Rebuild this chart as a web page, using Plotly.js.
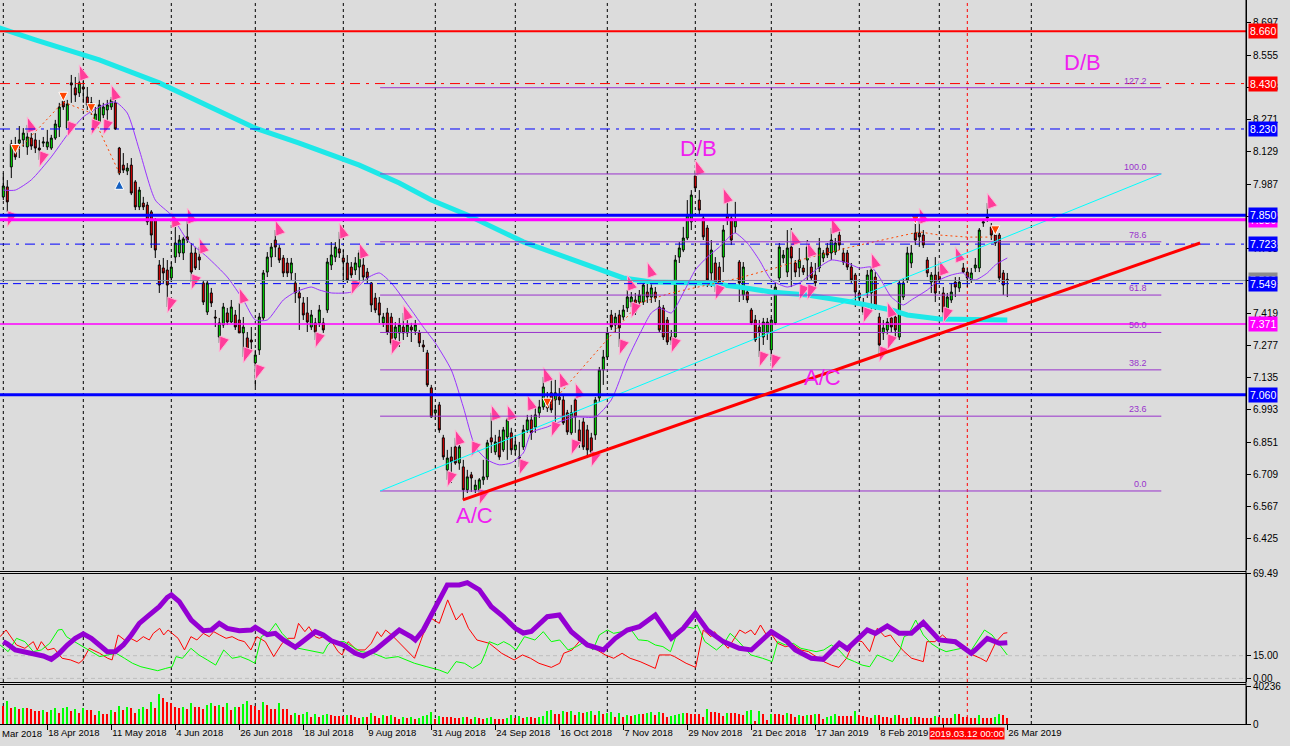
<!DOCTYPE html>
<html><head><meta charset="utf-8">
<script src="https://cdn.plot.ly/plotly-3.0.1.min.js"></script>
<style>html,body{margin:0;padding:0;background:#dcdcdc;overflow:hidden}#chart{width:1290px;height:746px}</style>
</head><body><div id="chart"></div>
<script>
// ---------- daily bars (index 0 = first visible bar, Apr 2018) ----------
const open = [7.931,7.975,8.063,8.151,8.168,8.182,8.151,8.190,8.182,8.146,8.168,8.151,8.146,8.190,8.239,8.353,8.234,8.433,8.411,8.389,8.415,8.371,8.345,8.261,8.261,8.292,8.314,8.327,8.345,8.146,8.071,8.045,8.071,7.997,7.887,7.904,7.895,7.865,7.829,7.631,7.618,7.609,7.574,7.666,7.684,7.684,7.755,7.684,7.684,7.666,7.552,7.424,7.508,7.402,7.314,7.367,7.420,7.380,7.411,7.389,7.332,7.310,7.301,7.200,7.257,7.398,7.600,7.666,7.741,7.706,7.662,7.640,7.596,7.552,7.508,7.464,7.420,7.358,7.376,7.376,7.376,7.433,7.631,7.666,7.702,7.662,7.640,7.622,7.609,7.622,7.631,7.600,7.552,7.486,7.464,7.376,7.420,7.402,7.310,7.332,7.358,7.332,7.358,7.341,7.332,7.279,7.244,7.090,6.980,7.015,6.870,6.729,6.786,6.830,6.759,6.742,6.641,6.707,6.641,6.641,6.685,6.698,6.870,6.808,6.874,6.817,6.874,6.892,6.817,6.786,6.830,6.905,6.949,6.918,6.980,7.006,7.037,7.068,7.037,7.050,7.037,6.980,6.892,7.037,6.905,6.940,6.905,6.870,6.883,7.046,7.169,7.226,7.411,7.367,7.411,7.402,7.442,7.468,7.477,7.468,7.468,7.512,7.490,7.512,7.446,7.442,7.389,7.301,7.314,7.666,7.697,7.750,7.821,8.023,7.917,7.838,7.794,7.596,7.640,7.622,7.666,7.851,7.838,7.799,7.644,7.499,7.512,7.433,7.389,7.358,7.314,7.336,7.257,7.376,7.574,7.662,7.600,7.710,7.640,7.618,7.618,7.653,7.622,7.587,7.618,7.662,7.706,7.684,7.688,7.763,7.684,7.684,7.622,7.587,7.508,7.464,7.508,7.508,7.578,7.402,7.332,7.345,7.398,7.402,7.314,7.490,7.565,7.640,7.772,7.772,7.763,7.653,7.556,7.587,7.600,7.508,7.433,7.477,7.556,7.530,7.618,7.600,7.565,7.618,7.618,7.816,7.843,7.799,7.763,7.763,7.596,7.568];
const high = [8.036,8.005,8.182,8.195,8.243,8.234,8.248,8.212,8.212,8.182,8.195,8.226,8.204,8.270,8.345,8.367,8.358,8.468,8.459,8.477,8.459,8.415,8.371,8.327,8.358,8.345,8.358,8.371,8.358,8.151,8.124,8.080,8.102,8.005,7.975,7.931,7.909,7.873,7.838,7.653,7.662,7.653,7.644,7.829,7.763,7.755,7.829,7.728,7.711,7.711,7.565,7.565,7.530,7.433,7.398,7.464,7.442,7.477,7.433,7.464,7.402,7.336,7.358,7.257,7.420,7.609,7.688,7.728,7.785,7.719,7.675,7.662,7.662,7.596,7.534,7.490,7.490,7.433,7.398,7.455,7.398,7.662,7.732,7.732,7.777,7.697,7.675,7.644,7.666,7.697,7.662,7.618,7.556,7.508,7.490,7.420,7.442,7.420,7.380,7.398,7.420,7.389,7.376,7.389,7.345,7.301,7.257,7.103,7.015,7.028,6.883,6.817,6.830,6.870,6.839,6.773,6.729,6.720,6.685,6.693,6.773,6.861,6.980,6.883,6.905,6.918,6.958,6.914,6.883,6.852,6.927,6.971,6.971,7.006,7.037,7.138,7.072,7.138,7.125,7.090,7.059,6.993,7.015,7.046,6.949,6.958,6.927,6.892,7.050,7.182,7.257,7.345,7.433,7.420,7.433,7.455,7.521,7.512,7.508,7.521,7.556,7.552,7.552,7.534,7.477,7.455,7.402,7.345,7.675,7.732,7.799,7.917,7.961,8.049,7.961,7.851,7.807,7.741,7.666,7.644,7.807,7.931,7.851,7.909,7.653,7.644,7.534,7.442,7.411,7.389,7.398,7.398,7.402,7.552,7.728,7.697,7.785,7.794,7.653,7.706,7.631,7.741,7.644,7.640,7.750,7.697,7.728,7.794,7.750,7.785,7.706,7.697,7.640,7.596,7.521,7.486,7.609,7.622,7.600,7.420,7.389,7.398,7.420,7.420,7.565,7.574,7.711,7.719,7.821,7.829,7.785,7.666,7.600,7.666,7.631,7.534,7.508,7.552,7.578,7.578,7.640,7.618,7.618,7.662,7.794,7.829,7.904,7.816,7.777,7.772,7.609,7.596];
const low = [7.917,7.865,8.014,8.094,8.102,8.151,8.116,8.138,8.124,8.094,8.151,8.138,8.138,8.182,8.195,8.314,8.226,8.345,8.349,8.371,8.345,8.314,8.292,8.239,8.248,8.278,8.256,8.314,8.226,8.027,8.036,8.027,7.939,7.873,7.873,7.873,7.807,7.706,7.662,7.508,7.552,7.446,7.556,7.640,7.666,7.653,7.728,7.556,7.609,7.609,7.455,7.411,7.446,7.358,7.288,7.354,7.367,7.376,7.345,7.332,7.226,7.226,7.244,7.094,7.235,7.389,7.578,7.622,7.666,7.640,7.578,7.578,7.565,7.464,7.345,7.389,7.336,7.345,7.301,7.358,7.332,7.420,7.609,7.644,7.662,7.556,7.552,7.574,7.587,7.552,7.565,7.552,7.424,7.420,7.376,7.358,7.323,7.279,7.292,7.270,7.301,7.314,7.292,7.323,7.270,7.248,7.094,6.958,6.949,6.892,6.773,6.685,6.671,6.751,6.729,6.597,6.627,6.632,6.627,6.618,6.663,6.685,6.803,6.795,6.773,6.808,6.773,6.795,6.795,6.742,6.817,6.892,6.861,6.892,6.958,6.993,6.984,6.980,6.918,7.015,6.927,6.883,6.883,6.892,6.826,6.817,6.781,6.795,6.861,7.028,7.103,7.213,7.345,7.332,7.270,7.389,7.424,7.446,7.411,7.446,7.455,7.464,7.464,7.468,7.332,7.301,7.279,7.279,7.301,7.640,7.688,7.741,7.785,7.953,7.851,7.741,7.534,7.534,7.512,7.521,7.600,7.807,7.719,7.772,7.468,7.477,7.464,7.367,7.292,7.226,7.279,7.301,7.204,7.367,7.556,7.640,7.578,7.534,7.578,7.578,7.587,7.565,7.565,7.534,7.600,7.644,7.662,7.653,7.675,7.697,7.631,7.609,7.552,7.446,7.468,7.411,7.486,7.420,7.433,7.235,7.301,7.323,7.332,7.301,7.301,7.477,7.552,7.618,7.719,7.711,7.706,7.578,7.508,7.468,7.552,7.402,7.420,7.464,7.490,7.512,7.596,7.534,7.552,7.600,7.600,7.799,7.821,7.741,7.715,7.556,7.499,7.490];
const close = [7.979,7.909,8.164,8.107,8.182,8.212,8.195,8.155,8.146,8.138,8.173,8.173,8.190,8.252,8.327,8.327,8.340,8.424,8.380,8.433,8.406,8.336,8.305,8.296,8.336,8.327,8.336,8.358,8.230,8.036,8.049,8.058,7.948,7.887,7.961,7.887,7.821,7.763,7.697,7.543,7.596,7.543,7.622,7.728,7.741,7.746,7.741,7.600,7.618,7.653,7.468,7.552,7.464,7.398,7.376,7.446,7.380,7.446,7.358,7.332,7.358,7.257,7.292,7.235,7.402,7.596,7.666,7.710,7.710,7.653,7.596,7.596,7.640,7.508,7.486,7.411,7.380,7.411,7.336,7.433,7.345,7.644,7.675,7.710,7.684,7.644,7.565,7.587,7.640,7.684,7.578,7.574,7.455,7.433,7.411,7.402,7.336,7.288,7.358,7.367,7.332,7.367,7.345,7.367,7.288,7.270,7.103,6.962,6.993,6.905,6.786,6.781,6.764,6.759,6.830,6.641,6.698,6.693,6.662,6.685,6.698,6.848,6.852,6.852,6.786,6.905,6.949,6.817,6.839,6.781,6.905,6.949,6.892,6.971,7.006,7.094,7.002,6.993,7.068,7.037,6.936,6.896,6.980,6.962,6.852,6.830,6.817,6.808,7.037,7.169,7.226,7.332,7.358,7.402,7.354,7.433,7.490,7.490,7.424,7.499,7.543,7.490,7.530,7.486,7.345,7.314,7.292,7.314,7.653,7.706,7.750,7.851,7.939,7.970,7.873,7.755,7.565,7.697,7.552,7.552,7.785,7.829,7.741,7.829,7.552,7.622,7.477,7.376,7.301,7.336,7.380,7.380,7.389,7.534,7.710,7.675,7.706,7.662,7.600,7.653,7.600,7.710,7.574,7.552,7.706,7.684,7.675,7.741,7.728,7.719,7.644,7.622,7.565,7.512,7.486,7.424,7.587,7.609,7.446,7.279,7.354,7.380,7.358,7.345,7.552,7.552,7.684,7.684,7.741,7.755,7.719,7.596,7.587,7.508,7.565,7.424,7.490,7.512,7.534,7.556,7.600,7.574,7.596,7.631,7.785,7.821,7.838,7.763,7.728,7.574,7.543,7.563];
const volume = [19420,24710,17300,18360,15890,17300,17300,15890,14120,14120,15180,13060,15180,17300,12000,17300,18360,14120,16240,12000,17300,15180,15180,9880,14120,10940,10940,15180,13060,19420,15180,18360,17300,12000,16240,18360,16240,23650,17300,32120,27890,23650,22590,18360,17300,18360,16240,22590,18360,18360,16240,20470,22590,19420,20470,18360,22590,15180,18360,18360,21530,24710,20470,19420,15180,23650,20470,16240,16240,22590,16240,16240,9880,12000,9880,10940,13060,7770,10940,7770,9880,10940,9880,8830,8830,8830,9880,9880,7770,6710,7770,7770,12000,8830,6710,9880,8830,9880,7770,5650,7770,6710,7770,5650,6710,8830,9880,13060,5650,8830,7770,7770,7770,6710,6710,7770,7770,5650,7770,6710,5650,6710,7770,5650,5650,5650,6710,9880,6710,8830,6710,7770,7770,6710,7770,8830,14120,15180,10940,10940,14120,13060,14120,9880,13060,12000,13060,14120,9880,14120,10940,12000,13060,7770,12000,7770,9880,8830,9880,10940,10940,12000,13060,9880,13060,12000,7770,8830,9880,10940,12000,12000,10940,10940,10940,7770,16240,13060,13060,12000,8830,12000,12000,12000,10940,9880,14120,15180,3530,14120,10940,4590,10940,10940,10940,9880,12000,10940,7770,9880,8830,9880,9880,10940,10940,5650,7770,8830,10940,8830,8830,8830,8830,14120,9880,8830,7770,6710,9880,9880,7770,7770,6710,9880,9880,6710,6710,7770,7770,7770,6710,6710,6710,8830,7770,6710,6710,6710,10940,10940,7770,7770,6710,6710,9880,6710,6710,6710,7770,10940,9880,6710];

// ---------- moving averages (bar index, price) ----------
const slowMaIdx = [-1,8,24,39,63,74,89,99,107,116,130,141,149,155,162,176,184,192,201,212,222,226,234,251];
const slowMaPrice = [8.675,8.622,8.534,8.433,8.234,8.168,8.071,7.992,7.917,7.851,7.733,7.662,7.609,7.574,7.556,7.552,7.534,7.512,7.499,7.468,7.433,7.411,7.393,7.389];
const fastMaIdx = [0,3,7,12,16,20,24,28,31,34,38,42,46,51,56,60,63,66,70,73,77,79,82,87,91,94,97,102,105,108,112,115,118,121,124,127,130,132,136,139,143,148,152,156,160,162,164,167,170,173,176,179,182,183,186,189,192,196,199,201,204,207,211,214,217,219,222,225,227,231,234,237,240,241,243,246,248,251];
const fastMaPrice = [7.961,7.961,8.006,8.107,8.204,8.283,8.327,8.349,8.300,8.138,7.917,7.851,7.741,7.666,7.578,7.477,7.389,7.389,7.477,7.512,7.534,7.521,7.508,7.512,7.574,7.596,7.552,7.433,7.358,7.288,7.169,7.006,6.830,6.773,6.751,6.760,6.803,6.892,6.918,6.940,6.962,6.962,7.037,7.213,7.358,7.420,7.442,7.420,7.508,7.609,7.666,7.710,7.763,7.772,7.728,7.653,7.565,7.534,7.552,7.578,7.622,7.653,7.640,7.618,7.622,7.578,7.490,7.455,7.477,7.521,7.565,7.587,7.596,7.578,7.565,7.596,7.631,7.662];
// dotted swing line
const swingIdx = [3,15,22,29,null,136,159,167,184,193,201,209,213,229,234,241,248];
const swingPrice = [8.124,8.349,8.300,8.036,null,7.002,7.464,7.508,7.574,7.618,7.662,7.697,7.715,7.777,7.763,7.754,7.754];
const sellArrowIdx = [3,15,22,136,228,248];
const sellArrowPrice = [8.122,8.352,8.302,7.005,7.812,7.764];
const buyArrowIdx = [29];
const buyArrowPrice = [8.004];
// fractals
const upFracIdx = [6,19,27,42,46,49,59,68,84,89,100,113,122,126,131,135,139,143,156,161,173,180,197,201,207,217,221,229,234,238,246];
const upFracPrice = [8.283,8.512,8.424,7.865,7.882,7.750,7.530,7.829,7.816,7.728,7.455,6.905,7.015,7.015,7.059,7.182,7.160,7.112,7.587,7.644,8.094,7.970,7.785,7.733,7.838,7.684,7.468,7.882,7.653,7.711,7.948];
const dnFracIdx = [1,9,16,22,25,41,47,54,60,63,78,87,97,111,117,119,129,137,142,147,154,157,167,178,189,192,199,201,215,219,221,235];
const dnFracPrice = [7.799,8.063,8.195,8.204,8.204,7.420,7.521,7.248,7.200,7.125,7.266,7.499,7.235,6.654,6.786,6.575,6.707,6.874,6.795,6.742,7.235,7.398,7.244,7.477,7.182,7.169,7.477,7.477,7.376,7.204,7.257,7.376];

// ---------- horizontal levels and drawings ----------
const levelPrices = [8.660, 8.430, 8.230, 7.850, 7.830, 7.723, 7.563, 7.549, 7.371, 7.060];
const fibLevels = [0.0, 23.6, 38.2, 50.0, 61.8, 78.6, 100.0, 127.2];
const fibLowPrice = 6.636, fibHighPrice = 8.032;
const fibStartIdx = 94.2, fibEndIdx = 289.5;
const redTrendIdx = [114.9, 299.2], redTrendPrice = [6.597, 7.728];
const waveLabels = ['D/B', 'D/B', 'A/C', 'A/C'];
const waveIdx = [173.7, 269.7, 117.7, 204.7];
const wavePrice = [8.146, 8.525, 6.530, 7.134];

// ---------- directional movement indicator ----------
const adxIdx = [0,1,3,5,8,10,12,14,16,18,20,22,24,26,28,30,32,34,36,39,41,42,44,47,50,52,54,56,59,62,63,66,68,70,73,76,78,80,82,85,88,90,93,96,99,102,103,105,108,111,114,116,119,122,125,128,130,132,136,139,142,146,150,153,156,159,163,167,170,173,176,180,184,187,192,196,198,202,205,209,211,216,218,221,224,227,230,234,238,242,243,246,249,251];
const adxVal = [24.3,22.8,18.8,17.7,16.6,14.8,12.6,16.6,22.1,26.5,29.4,26.5,22.1,17.7,17.7,22.1,28.7,36.4,40.8,47.4,53.6,55.2,50.7,38.6,31.5,32.0,36.4,33.1,31.5,32.0,33.8,29.0,29.8,25.4,20.6,26.5,30.9,28.7,24.9,22.1,16.6,14.8,18.8,25.4,32.0,27.5,25.4,32.0,47.4,61.8,61.8,63.3,58.5,47.4,40.8,33.1,30.0,31.0,40.8,41.9,30.9,22.1,18.8,26.5,32.0,34.2,41.9,26.5,33.1,43.0,32.0,24.3,19.9,18.8,30.9,24.3,18.8,13.3,12.6,23.2,19.5,32.0,29.8,34.7,29.8,29.8,36.9,25.4,24.3,16.6,18.8,26.5,23.2,23.6];
const diMinusIdx = [-0.8,0.7,3.3,5.4,7.5,8.5,9.5,11.1,12.7,14.7,16.8,18.9,19.9,21.5,24.1,26.1,27.2,28.7,30.3,31.8,33.4,35.0,36.5,37.5,39.1,40.1,41.2,42.2,43.7,45.3,46.9,48.4,50.0,51.5,52.6,54.1,55.7,57.2,58.8,60.3,61.9,63.4,65.5,67.6,69.7,71.2,72.8,73.8,75.4,76.4,78.0,79.0,80.0,82.1,83.7,84.7,86.2,88.3,90.4,92.0,93.5,94.5,95.6,97.1,98.7,100.8,102.8,104.9,107.0,109.0,111.1,113.2,114.7,116.3,118.4,121.5,124.6,127.7,129.8,131.8,133.9,137.0,139.1,140.1,142.2,144.3,146.4,148.4,150.5,152.6,154.7,156.7,159.2,163.0,164.0,166.8,167.8,170.7,173.1,175.0,176.9,177.8,179.3,181.2,183.1,184.1,185.5,186.9,187.9,189.3,190.8,192.2,193.6,195.5,197.5,199.4,201.3,203.2,205.1,207.0,208.9,210.8,212.8,214.7,216.6,218.5,220.4,221.8,223.3,225.2,227.1,230.0,230.9,232.9,234.8,236.7,238.6,240.5,242.4,244.3,245.8,248.2,250.1,251.0];
const diMinusVal = [27.6,32.0,22.1,19.9,24.3,18.8,24.3,18.8,19.9,13.3,12.2,10.0,12.2,19.9,16.6,13.3,12.2,28.7,25.4,26.5,24.3,27.6,25.4,29.8,33.1,28.7,32.0,29.8,26.5,18.8,27.6,25.4,29.8,27.6,30.9,28.7,26.5,27.6,25.4,24.3,18.8,27.6,24.3,14.4,23.2,26.5,26.5,36.4,30.9,34.2,27.6,26.5,27.6,24.3,17.7,15.5,24.3,18.8,18.8,23.2,30.9,27.6,32.0,28.7,24.3,18.8,13.3,28.7,39.7,36.4,51.9,38.6,43.0,33.1,25.4,23.2,16.6,12.2,15.5,13.3,10.0,7.3,10.0,16.6,18.8,25.4,22.1,18.8,15.5,13.3,16.6,13.3,11.1,6.6,15.5,15.5,14.4,10.0,7.3,32.0,27.6,30.9,25.4,19.9,27.6,32.0,29.8,32.0,28.7,35.3,28.7,28.7,23.2,21.0,22.1,18.8,17.7,14.4,11.1,8.8,7.3,13.3,25.4,24.3,17.7,33.1,27.6,28.7,23.2,17.7,13.3,11.1,24.3,24.3,28.7,24.3,22.1,18.8,15.5,13.3,11.1,24.3,29.8,30.2];
const diPlusIdx = [-0.8,1.2,3.3,5.4,7.5,9.5,11.6,13.7,14.7,15.8,17.8,19.9,22.0,24.1,26.1,28.2,30.3,32.3,34.4,36.5,38.6,40.6,42.2,43.2,44.8,46.9,48.9,51.0,53.1,55.1,57.2,59.3,61.4,62.9,64.5,66.6,68.1,69.7,71.7,73.8,75.9,78.0,80.0,81.1,82.1,85.2,87.3,89.4,92.5,95.6,98.7,100.8,102.8,105.9,109.0,111.1,112.2,113.2,115.3,117.3,119.4,120.5,121.5,123.6,125.1,126.7,128.2,130.3,132.9,135.0,137.0,139.1,141.2,143.3,145.3,147.4,149.0,151.0,152.6,154.7,156.7,158.8,159.2,161.1,163.0,164.9,166.8,168.7,170.7,172.6,173.5,175.4,178.3,180.2,181.7,183.1,185.0,186.9,189.8,192.2,193.6,195.5,197.5,199.4,201.3,203.2,205.1,207.0,208.9,210.8,212.8,214.7,216.6,218.5,220.4,222.3,224.2,225.2,226.2,228.1,230.0,231.9,233.8,235.7,237.6,239.6,241.5,243.4,245.3,247.2,249.1,251.0];
const diPlusVal = [22.1,17.7,26.5,24.3,17.7,18.8,23.2,32.0,32.4,27.6,24.3,21.0,17.7,14.4,15.5,16.6,13.3,10.0,7.7,6.6,5.1,6.6,7.7,14.4,13.3,19.9,15.5,12.2,8.8,18.8,13.3,14.4,12.2,10.0,27.6,30.9,36.4,29.8,24.3,19.9,18.8,17.7,16.6,22.1,24.3,24.3,21.0,17.7,16.6,13.3,14.4,12.2,10.0,7.7,5.5,3.3,7.7,11.1,10.0,6.6,10.0,16.6,24.3,22.1,24.3,22.1,18.8,27.6,25.4,30.9,24.3,25.4,18.8,21.0,24.3,18.8,28.7,32.0,29.8,30.9,33.1,25.4,25.4,24.9,22.1,21.0,17.7,32.0,34.2,33.1,35.3,24.3,18.8,23.2,29.8,26.5,21.0,15.5,13.3,11.1,24.3,22.1,23.2,19.9,18.8,17.7,18.8,22.1,18.8,13.3,11.1,8.8,7.7,15.5,13.3,11.1,18.8,27.6,28.7,38.6,28.7,23.2,19.9,17.7,18.8,19.9,16.6,24.3,32.0,28.7,22.1,15.5];

// ---------- axes ----------
const priceTicks = [6.425,6.567,6.709,6.851,6.993,7.135,7.277,7.419,7.561,7.703,7.845,7.987,8.129,8.271,8.413,8.555,8.697];
const dmiTicks = [0, 15, 69.49];
const volTicks = [0, 40236];
const monthStartIdx = [0,20,42,63,85,108,128,151,173,192,214,234,257];
const dateTickIdx = [11,27,43,59,75,91,107,123,139,155,171,187,203,219,235,251];
const dateTickText = ['18 Apr 2018','11 May 2018','4 Jun 2018','26 Jun 2018','18 Jul 2018','9 Aug 2018','31 Aug 2018','24 Sep 2018','16 Oct 2018','7 Nov 2018','29 Nov 2018','21 Dec 2018','17 Jan 2019','8 Feb 2019','4 Mar 2019','26 Mar 2019'];
const cursorIdx = 241;
const cursorText = '2019.03.12 00:00';

// ---------- build ----------
const N = close.length;
const barIdx = Array.from({length: N}, (_, i) => i);
const volColor = volume.map((v, i) => (i > 0 && v > volume[i - 1]) ? '#00ff00' : '#ff0000');

const PH = 724; // plot area height in px
const fy = px => 1 - px / PH;
const FONT = 'Liberation Sans, Arial, sans-serif';
const xRange = [-0.825, 310.675];

const traces = [
  {type: 'candlestick', x: barIdx, open, high, low, close, xaxis: 'x', yaxis: 'y',
   increasing: {line: {color: '#000000', width: 1}, fillcolor: '#00ff00'},
   decreasing: {line: {color: '#000000', width: 1}, fillcolor: '#ff0000'},
   whiskerwidth: 0, hoverinfo: 'skip', showlegend: false},
  {type: 'scatter', mode: 'lines', x: slowMaIdx, y: slowMaPrice, line: {color: '#1ee8e8', width: 5}, hoverinfo: 'skip', showlegend: false},
  {type: 'scatter', mode: 'lines', x: fastMaIdx, y: fastMaPrice, line: {color: '#9933ff', width: 1, shape: 'spline', smoothing: 0.6}, hoverinfo: 'skip', showlegend: false},
  {type: 'scatter', mode: 'lines', x: swingIdx, y: swingPrice, connectgaps: false, line: {color: '#ff4500', width: 1, dash: '2px,3px'}, hoverinfo: 'skip', showlegend: false},
  {type: 'scatter', mode: 'markers', x: upFracIdx, y: upFracPrice, marker: {symbol: 'arrow', size: 16, angle: -20, color: '#ff3d9a', line: {color: '#ffb3d6', width: 1}}, hoverinfo: 'skip', showlegend: false},
  {type: 'scatter', mode: 'markers', x: dnFracIdx, y: dnFracPrice, marker: {symbol: 'arrow', size: 16, angle: 200, color: '#ff3d9a', line: {color: '#ffb3d6', width: 1}}, hoverinfo: 'skip', showlegend: false},
  {type: 'scatter', mode: 'markers', x: sellArrowIdx, y: sellArrowPrice, marker: {symbol: 'arrow-down', size: 9, color: '#ff4500', line: {color: '#ffffff', width: 1}}, hoverinfo: 'skip', showlegend: false},
  {type: 'scatter', mode: 'markers', x: buyArrowIdx, y: buyArrowPrice, marker: {symbol: 'arrow-up', size: 9, color: '#1560c0', line: {color: '#ffffff', width: 1}}, hoverinfo: 'skip', showlegend: false},
  // DMI pane
  {type: 'scatter', mode: 'lines', x: diMinusIdx, y: diMinusVal, xaxis: 'x2', yaxis: 'y2', line: {color: '#ff0000', width: 1}, hoverinfo: 'skip', showlegend: false},
  {type: 'scatter', mode: 'lines', x: diPlusIdx, y: diPlusVal, xaxis: 'x2', yaxis: 'y2', line: {color: '#00ff00', width: 1}, hoverinfo: 'skip', showlegend: false},
  {type: 'scatter', mode: 'lines', x: adxIdx, y: adxVal, xaxis: 'x2', yaxis: 'y2', line: {color: '#9400d3', width: 5}, hoverinfo: 'skip', showlegend: false},
  // volume pane
  {type: 'bar', x: barIdx, y: volume, xaxis: 'x3', yaxis: 'y3', width: 0.42, marker: {color: volColor, line: {width: 0}}, hoverinfo: 'skip', showlegend: false}
];

const shapes = [];
const paneRefs = [['x', 'y domain'], ['x2', 'y2 domain'], ['x3', 'y3 domain']];
monthStartIdx.forEach(i => paneRefs.forEach(([xr, yr]) => shapes.push({type: 'line', xref: xr, yref: yr, x0: i, x1: i, y0: 0, y1: 1, layer: 'below', line: {color: '#000000', width: 1, dash: '3px,3px'}})));
paneRefs.forEach(([xr, yr]) => shapes.push({type: 'line', xref: xr, yref: yr, x0: cursorIdx, x1: cursorIdx, y0: 0, y1: 1, layer: 'below', line: {color: '#ff0000', width: 1, dash: '3px,3px'}}));

// fib levels
const fibColor = '#9932cc';
fibLevels.forEach(l => {
  const p = fibLowPrice + (fibHighPrice - fibLowPrice) * l / 100;
  shapes.push({type: 'line', xref: 'x', yref: 'y', x0: fibStartIdx, x1: fibEndIdx, y0: p, y1: p, layer: 'above', line: {color: fibColor, width: 1}});
});
// fib diagonal
shapes.push({type: 'line', xref: 'x', yref: 'y', x0: fibStartIdx, x1: fibEndIdx, y0: fibLowPrice, y1: fibHighPrice, layer: 'above', line: {color: '#00ffff', width: 1}});

// horizontal price levels
const levelLook = [
  {c: '#ff0000', w: 2, d: 'solid', box: '#ff0000'},
  {c: '#ff0000', w: 1, d: '10px,6px,3px,6px', box: '#ff0000'},
  {c: '#0000ff', w: 1, d: '10px,6px,3px,6px', box: '#0000ff'},
  {c: '#0000ff', w: 3, d: 'solid', box: '#0000ff'},
  {c: '#ff00ff', w: 3, d: 'solid', box: '#ff00ff'},
  {c: '#0000ff', w: 1, d: '10px,6px,3px,6px', box: '#0000ff'},
  {c: '#7a8ca0', w: 1, d: 'solid', box: '#8c8c8c'},
  {c: '#0000ff', w: 1, d: '8px,5px', box: '#0000ff'},
  {c: '#ff00ff', w: 1.5, d: 'solid', box: '#ff00ff'},
  {c: '#0000ff', w: 3, d: 'solid', box: '#0000ff'}
];
levelPrices.forEach((p, i) => shapes.push({type: 'line', xref: 'paper', yref: 'y', x0: 0, x1: 1, y0: p, y1: p, layer: 'above', line: {color: levelLook[i].c, width: levelLook[i].w, dash: levelLook[i].d}}));

// red trend line
shapes.push({type: 'line', xref: 'x', yref: 'y', x0: redTrendIdx[0], x1: redTrendIdx[1], y0: redTrendPrice[0], y1: redTrendPrice[1], layer: 'above', line: {color: '#ff0000', width: 3}});

// pane borders
[571.5, 573.5, 682.5, 684.5].forEach(px => shapes.push({type: 'line', xref: 'paper', yref: 'paper', x0: 0, x1: 1, y0: fy(px), y1: fy(px), line: {color: '#000000', width: 1}}));
shapes.push({type: 'line', xref: 'paper', yref: 'paper', x0: 1, x1: 1, y0: 0, y1: 1, line: {color: '#000000', width: 1}});
// DMI reference levels
[15, 0].forEach(v => shapes.push({type: 'line', xref: 'paper', yref: 'y2', x0: 0, x1: 1, y0: v, y1: v, layer: 'below', line: {color: '#bdbdbd', width: 1, dash: '4px,3px'}}));

const annotations = [];
fibLevels.forEach(l => {
  const p = fibLowPrice + (fibHighPrice - fibLowPrice) * l / 100;
  annotations.push({xref: 'x', yref: 'y', x: fibEndIdx - 3, y: p, text: l.toFixed(1), showarrow: false, xanchor: 'right', yanchor: 'bottom', yshift: 0, font: {family: FONT, size: 9, color: fibColor}});
});
waveLabels.forEach((t, i) => annotations.push({xref: 'x', yref: 'y', x: waveIdx[i], y: wavePrice[i], text: t, showarrow: false, xanchor: 'center', yanchor: 'middle', font: {family: FONT, size: 22, color: '#f020f0'}}));
// price boxes on the scale (draw order so the front boxes cover the others)
[0, 1, 2, 4, 3, 5, 6, 7, 8, 9].forEach(i => annotations.push({xref: 'paper', yref: 'y', x: 1248 / 1246, y: levelPrices[i], xanchor: 'left', yanchor: 'middle', text: levelPrices[i].toFixed(3), showarrow: false, bgcolor: levelLook[i].box, borderpad: 1, font: {family: FONT, size: 10.5, color: '#ffffff'}}));
annotations.push({xref: 'paper', yref: 'paper', x: 0, y: fy(734), xanchor: 'left', yanchor: 'middle', text: 'Mar 2018', showarrow: false, font: {family: FONT, size: 9.5, color: '#000000'}});
annotations.push({xref: 'x3', yref: 'paper', x: cursorIdx, y: fy(734), xanchor: 'center', yanchor: 'middle', text: cursorText, showarrow: false, bgcolor: '#ff0000', borderpad: 0, font: {family: FONT, size: 9.5, color: '#ffffff'}});

const axisFont = {family: FONT, size: 10, color: '#000000'};
const dateFont = {family: FONT, size: 9.5, color: '#000000'};
const baseX = {range: xRange, showgrid: false, zeroline: false, showticklabels: false, ticks: '', fixedrange: true};
const layout = {
  width: 1290, height: 746,
  margin: {l: 0, r: 44, t: 0, b: 22, pad: 0},
  paper_bgcolor: '#dcdcdc', plot_bgcolor: '#dcdcdc',
  showlegend: false, dragmode: false, hovermode: false,
  font: axisFont,
  xaxis: Object.assign({}, baseX, {anchor: 'y', rangeslider: {visible: false}}),
  xaxis2: Object.assign({}, baseX, {anchor: 'y2'}),
  xaxis3: Object.assign({}, baseX, {anchor: 'y3', showticklabels: true, ticks: 'outside', ticklen: 5, tickcolor: '#000000',
    tickvals: dateTickIdx, ticktext: dateTickText, tickangle: 0, ticklabelposition: 'outside right', tickfont: dateFont,
    showline: true, linecolor: '#000000', linewidth: 1}),
  yaxis: {domain: [fy(570), 1], range: [6.288, 8.798], side: 'right', anchor: 'x', showgrid: false, zeroline: false,
    tickvals: priceTicks, ticktext: priceTicks.map(v => v.toFixed(3)), ticks: 'outside', ticklen: 4, tickcolor: '#000000',
    showline: true, linecolor: '#000000', tickfont: axisFont, fixedrange: true},
  yaxis2: {domain: [fy(682), fy(573.3)], range: [-2.38, 69.49], side: 'right', anchor: 'x2', showgrid: false, zeroline: false,
    tickvals: dmiTicks, ticktext: dmiTicks.map(v => v.toFixed(2)), ticks: 'outside', ticklen: 4, tickcolor: '#000000',
    showline: true, linecolor: '#000000', tickfont: axisFont, fixedrange: true},
  yaxis3: {domain: [0, fy(686)], range: [0, 40236], side: 'right', anchor: 'x3', showgrid: false, zeroline: false,
    tickvals: volTicks, ticktext: volTicks.map(v => String(v)), ticks: 'outside', ticklen: 4, tickcolor: '#000000',
    showline: true, linecolor: '#000000', tickfont: axisFont, fixedrange: true},
  boxgap: 0.3,
  bargap: 0,
  shapes, annotations
};
Plotly.newPlot('chart', traces, layout, {staticPlot: true, displayModeBar: false});
</script>
</body></html>
